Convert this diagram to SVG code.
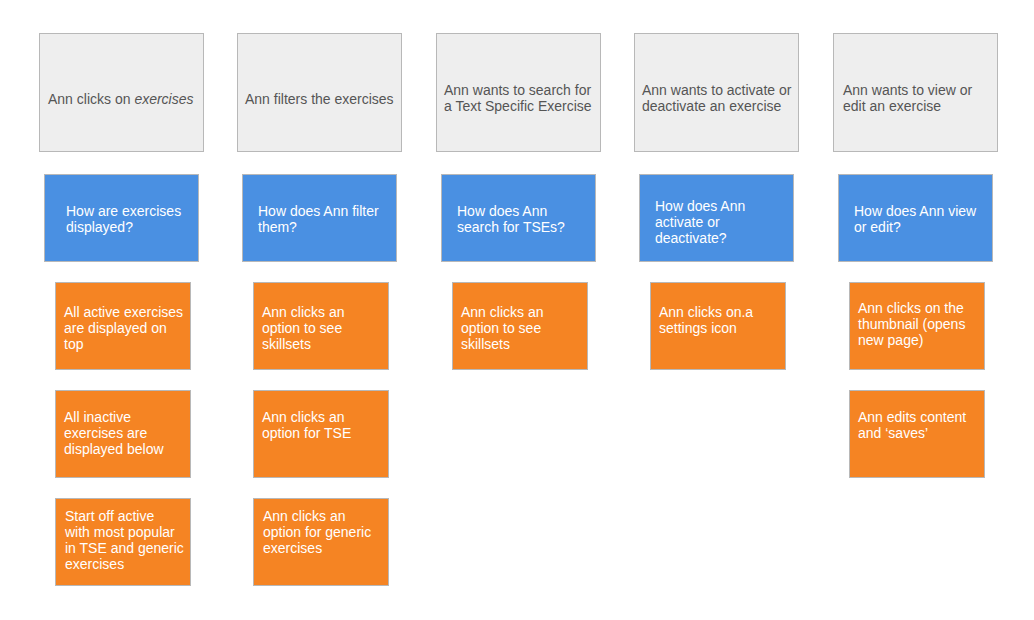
<svg xmlns="http://www.w3.org/2000/svg" width="1034" height="620" viewBox="0 0 1034 620">
<style>
text{font-family:"Liberation Sans",Arial,Helvetica,sans-serif;font-size:14px}
.g rect{fill:#eeeeee;stroke:#b8b8b8;stroke-width:1}
.g text{fill:#555555}
.b rect{fill:#4a90e2;stroke:#b8b8b8;stroke-width:1}
.b text{fill:#ffffff}
.o rect{fill:#f58423;stroke:#b8b8b8;stroke-width:1}
.o text{fill:#ffffff}
</style>
<rect width="1034" height="620" fill="#ffffff"/>
<g id="connectors"></g>
<!-- gray row -->
<g id="g1" class="g"><rect x="39.5" y="33.5" width="164" height="118"/><text x="48" y="104">Ann clicks on <tspan font-style="italic">exercises</tspan></text></g>
<g id="g2" class="g"><rect x="237.5" y="33.5" width="164" height="118"/><text x="245" y="104">Ann filters the exercises</text></g>
<g id="g3" class="g"><rect x="436.5" y="33.5" width="164" height="118"/><text x="444" y="95">Ann wants to search for</text><text x="444" y="111">a Text Specific Exercise</text></g>
<g id="g4" class="g"><rect x="634.5" y="33.5" width="164" height="118"/><text x="642" y="95">Ann wants to activate or</text><text x="642" y="111">deactivate an exercise</text></g>
<g id="g5" class="g"><rect x="833.5" y="33.5" width="164" height="118"/><text x="843" y="95">Ann wants to view or</text><text x="843" y="111">edit an exercise</text></g>
<!-- blue row -->
<g id="b1" class="b"><rect x="44.5" y="174.5" width="154" height="87"/><text x="66" y="216">How are exercises</text><text x="66" y="232">displayed?</text></g>
<g id="b2" class="b"><rect x="242.5" y="174.5" width="154" height="87"/><text x="258" y="216">How does Ann filter</text><text x="258" y="232">them?</text></g>
<g id="b3" class="b"><rect x="441.5" y="174.5" width="154" height="87"/><text x="457" y="216">How does Ann</text><text x="457" y="232">search for TSEs?</text></g>
<g id="b4" class="b"><rect x="639.5" y="174.5" width="154" height="87"/><text x="655" y="211">How does Ann</text><text x="655" y="227">activate or</text><text x="655" y="243">deactivate?</text></g>
<g id="b5" class="b"><rect x="838.5" y="174.5" width="154" height="87"/><text x="854" y="216">How does Ann view</text><text x="854" y="232">or edit?</text></g>
<!-- orange row 1 -->
<g id="o11" class="o"><rect x="55.5" y="282.5" width="135" height="87"/><text x="64" y="317">All active exercises</text><text x="64" y="333">are displayed on</text><text x="64" y="349">top</text></g>
<g id="o21" class="o"><rect x="253.5" y="282.5" width="135" height="87"/><text x="262" y="317">Ann clicks an</text><text x="262" y="333">option to see</text><text x="262" y="349">skillsets</text></g>
<g id="o31" class="o"><rect x="452.5" y="282.5" width="135" height="87"/><text x="461" y="317">Ann clicks an</text><text x="461" y="333">option to see</text><text x="461" y="349">skillsets</text></g>
<g id="o41" class="o"><rect x="650.5" y="282.5" width="135" height="87"/><text x="659" y="317">Ann clicks on.a</text><text x="659" y="333">settings icon</text></g>
<g id="o51" class="o"><rect x="849.5" y="282.5" width="135" height="87"/><text x="858" y="313">Ann clicks on the</text><text x="858" y="329">thumbnail (opens</text><text x="858" y="345">new page)</text></g>
<!-- orange row 2 -->
<g id="o12" class="o"><rect x="55.5" y="390.5" width="135" height="87"/><text x="64" y="422">All inactive</text><text x="64" y="438">exercises are</text><text x="64" y="454">displayed below</text></g>
<g id="o22" class="o"><rect x="253.5" y="390.5" width="135" height="87"/><text x="262" y="422">Ann clicks an</text><text x="262" y="438">option for TSE</text></g>
<g id="o52" class="o"><rect x="849.5" y="390.5" width="135" height="87"/><text x="858" y="422">Ann edits content</text><text x="858" y="438">and ‘saves’</text></g>
<!-- orange row 3 -->
<g id="o13" class="o"><rect x="55.5" y="498.5" width="135" height="87"/><text x="65" y="521">Start off active</text><text x="65" y="537">with most popular</text><text x="65" y="553">in TSE and generic</text><text x="65" y="569">exercises</text></g>
<g id="o23" class="o"><rect x="253.5" y="498.5" width="135" height="87"/><text x="263" y="521">Ann clicks an</text><text x="263" y="537">option for generic</text><text x="263" y="553">exercises</text></g>
</svg>
